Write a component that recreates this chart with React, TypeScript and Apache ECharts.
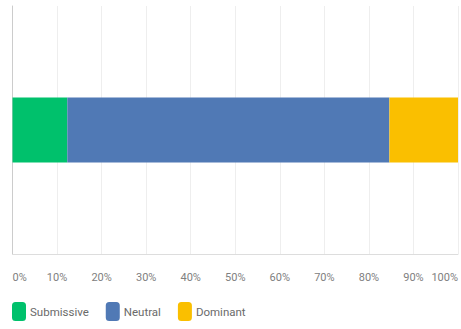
import React, { useEffect, useRef } from "react";
import * as echarts from "echarts";

const categories = ["Response"];
const seriesNames = ["Submissive", "Neutral", "Dominant"];
const submissive = [12.3];
const neutral = [72.3];
const dominant = [15.4];
const colors = ["#00C16C", "#5079B5", "#FABF00"];

export default function App() {
  const ref = useRef<HTMLDivElement>(null);
  useEffect(() => {
    if (!ref.current) return;
    const chart = echarts.init(ref.current, null, { renderer: "svg" });
    const values = [submissive, neutral, dominant];
    chart.setOption({
      animation: false,
      color: colors,
      textStyle: { fontFamily: "Roboto" },
      grid: { left: 12.5, right: -3, top: 6, bottom: 75, containLabel: false },
      xAxis: {
        type: "value",
        min: 0,
        max: 100,
        interval: 10,
        axisLine: { show: true, lineStyle: { color: "#dddddd" } },
        axisTick: { show: false },
        splitLine: { show: true, lineStyle: { color: "#eeeeee" } },
        axisLabel: {
          formatter: "{value}%",
          color: "#808080",
          fontSize: 11,
          margin: 18,
          alignMinLabel: "left",
          alignMaxLabel: "right",
        },
      },
      yAxis: {
        type: "category",
        data: categories,
        axisLine: { show: true, lineStyle: { color: "#cccccc" } },
        axisTick: { show: false },
        axisLabel: { show: false },
      },
      legend: {
        bottom: 3,
        left: 7,
        itemWidth: 14,
        itemHeight: 19,
        itemGap: 17,
        icon: "roundRect",
        textStyle: { color: "#6a6a6a", fontSize: 11.5, padding: [0, 0, 0, -1] },
        data: seriesNames,
      },
      series: seriesNames.map((name, i) => ({
        name,
        type: "bar",
        stack: "total",
        barWidth: 65,
        data: values[i],
      })),
    });
    return () => chart.dispose();
  }, []);
  return <div ref={ref} style={{ width: 461, height: 329, position: "absolute", left: 0, top: 0 }} />;
}
